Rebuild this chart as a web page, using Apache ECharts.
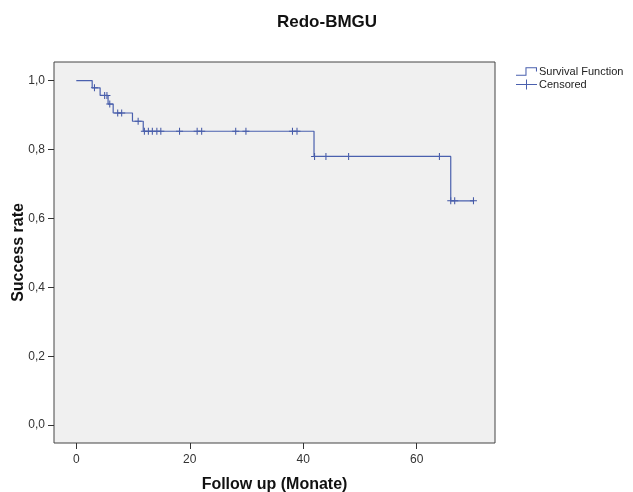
<!DOCTYPE html>
<html>
<head>
<meta charset="utf-8">
<script src="https://cdn.jsdelivr.net/npm/echarts@6/dist/echarts.min.js"></script>
<style>
  html, body { margin: 0; padding: 0; background: #fff; }
  #chart { width: 633px; height: 492px; }
</style>
</head>
<body>
<div id="chart"></div>
<script>
// Kaplan-Meier steps: [months, survival]
var stepTimes = [0, 2.8, 4.2, 5.6, 6.5, 9.9, 11.8, 41.9, 66, 70];
var stepValues = [1.0, 0.979, 0.957, 0.932, 0.906, 0.882, 0.853, 0.780, 0.651, 0.651];

// censored observations
var censorTimes = [3.2, 5.0, 5.4, 5.9, 7.3, 8.0, 10.9,
    12.0, 12.7, 13.4, 14.2, 14.9, 18.2, 21.3, 22.1, 28.1, 29.9, 38.1, 38.9,
    42.0, 44.0, 48.0, 64.0,
    66.0, 66.7, 70.0];
var censorValues = [0.979, 0.957, 0.957, 0.932, 0.906, 0.906, 0.882,
    0.853, 0.853, 0.853, 0.853, 0.853, 0.853, 0.853, 0.853, 0.853, 0.853, 0.853, 0.853,
    0.780, 0.780, 0.780, 0.780,
    0.651, 0.651, 0.651];

var xTicks = [0, 20, 40, 60];
var yTicks = [0, 0.2, 0.4, 0.6, 0.8, 1.0];

var lineColor = '#4a60ae';
var font = 'Liberation Sans, Arial, sans-serif';

// legend icons drawn as thin filled outlines
var stepIcon = 'path://M0,8 H9 V1 H20 V5 H19 V2 H10 V9 H0 Z';
var plusIcon = 'path://M0,4.5 H10 V0 H11 V4.5 H21 V5.5 H11 V10 H10 V5.5 H0 Z';
var plusMark = 'path://M0,3 H3 V0 H4 V3 H7 V4 H4 V7 H3 V4 H0 Z';

var chart = echarts.init(document.getElementById('chart'));
chart.setOption({
    animation: false,
    backgroundColor: '#fff',
    title: {
        text: 'Redo-BMGU',
        left: 272,
        top: 9,
        textStyle: { fontFamily: font, fontSize: 17, fontWeight: 'bold', color: '#111' }
    },
    legend: {
        orient: 'vertical',
        left: 516,
        top: 66,
        padding: 0,
        itemWidth: 21,
        itemHeight: 10,
        itemGap: 2,
        textStyle: { fontFamily: font, fontSize: 11, lineHeight: 11, color: '#222', padding: [0, 0, 0, -3] },
        data: [
            { name: 'Survival Function', icon: stepIcon, itemStyle: { color: lineColor, borderWidth: 0 } },
            { name: 'Censored', icon: plusIcon, itemStyle: { color: lineColor, borderWidth: 0 } }
        ]
    },
    grid: {
        left: 54,
        top: 62,
        right: 138,
        bottom: 49,
        outerBoundsMode: 'none',
        containLabel: false,
        show: true,
        backgroundColor: '#f0f0f0',
        borderColor: '#444',
        borderWidth: 1
    },
    xAxis: {
        type: 'value',
        min: -3.93,
        max: 73.8,
        name: 'Follow up (Monate)',
        nameLocation: 'middle',
        nameGap: 34,
        nameMoveOverlap: false,
        nameTextStyle: { fontFamily: font, fontSize: 16, fontWeight: 'bold', color: '#111' },
        axisLine: { show: false, onZero: false },
        splitLine: { show: false },
        axisTick: { show: true, length: 6, customValues: xTicks, lineStyle: { color: '#333' } },
        axisLabel: {
            customValues: xTicks,
            margin: 11,
            fontFamily: font,
            fontSize: 12,
            color: '#333'
        }
    },
    yAxis: {
        type: 'value',
        min: -0.052,
        max: 1.054,
        name: 'Success rate',
        nameLocation: 'middle',
        nameGap: 27,
        nameMoveOverlap: false,
        nameTextStyle: { fontFamily: font, fontSize: 16, fontWeight: 'bold', color: '#111' },
        axisLine: { show: false, onZero: false },
        splitLine: { show: false },
        axisTick: { show: true, length: 6, customValues: yTicks, lineStyle: { color: '#333' } },
        axisLabel: {
            customValues: yTicks,
            margin: 9,
            fontFamily: font,
            fontSize: 12,
            color: '#333',
            formatter: function (v) { return v.toFixed(1).replace('.', ','); }
        }
    },
    series: [
        {
            name: 'Survival Function',
            type: 'line',
            step: 'end',
            showSymbol: false,
            lineStyle: { color: lineColor, width: 1.2 },
            itemStyle: { color: lineColor },
            data: stepTimes.map(function (t, i) { return [t, stepValues[i]]; })
        },
        {
            name: 'Censored',
            type: 'scatter',
            symbol: plusMark,
            symbolSize: 7,
            itemStyle: { color: '#3d52a2', opacity: 1 },
            data: censorTimes.map(function (t, i) { return [t, censorValues[i]]; })
        }
    ]
});
</script>
</body>
</html>
